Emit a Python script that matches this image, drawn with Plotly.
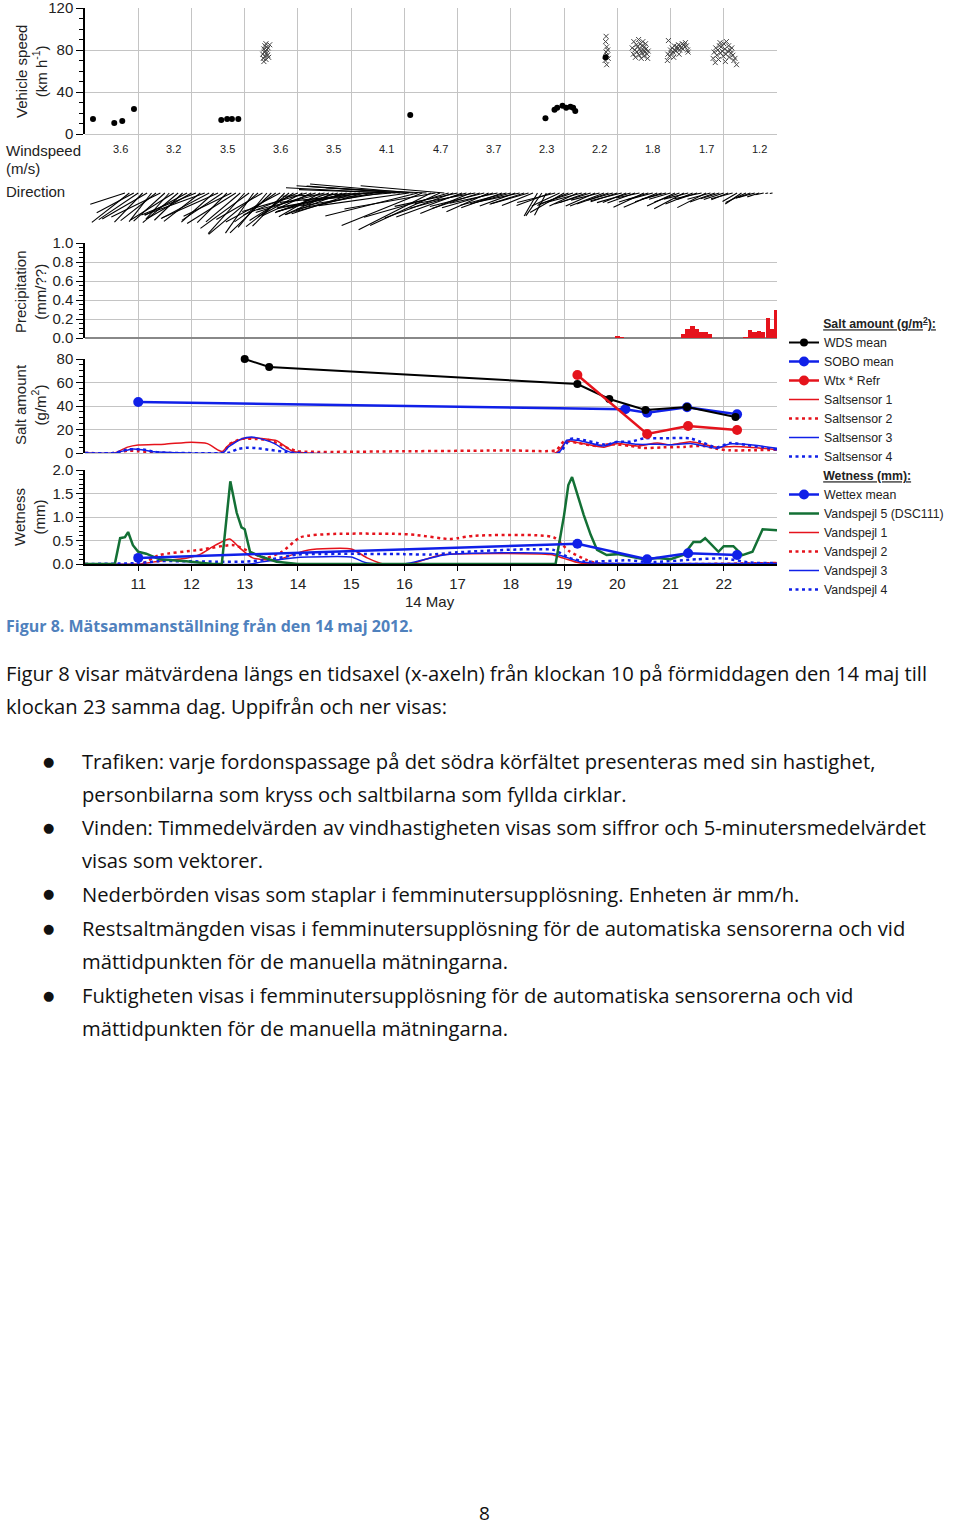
import math
import plotly.graph_objects as go

W, H = 960, 1525
def px(x): return x / W
def py(y): return 1 - y / H
def ydom(top, bot): return [1 - bot / H, 1 - top / H]
XDOM = [85 / W, 777 / W]
XR = [10, 23]
GRID = "#c4c4c4"
FONT = "Liberation Sans, Arial, sans-serif"
BODY = "Open Sans, sans-serif"
RED = "#e5131c"
BLUE = "#1020e8"
GREEN = "#137035"

# ---------------- Vehicle speed ----------------
truck_time = [10.15, 10.55, 10.70, 10.92, 12.56, 12.67, 12.76, 12.88, 16.11,
              18.65, 18.82, 18.87, 18.97, 19.04, 19.12, 19.17, 19.21, 19.78]
truck_speed = [14.3, 10.5, 12.4, 23.8, 13.3, 14.3, 14.3, 14.3, 18,
               15, 23, 25, 27, 25, 26, 25, 22, 73]
car_time = [13.34, 13.35, 13.36, 13.36, 13.37, 13.38, 13.38, 13.39, 13.40, 13.40, 13.41, 13.42, 13.43, 13.44, 13.45, 13.47,
            19.77, 19.78, 19.79, 19.80, 19.80, 19.81, 19.82, 19.83, 19.79,
            20.28, 20.30, 20.31, 20.33, 20.34, 20.36, 20.37, 20.38, 20.40, 20.41, 20.42, 20.43, 20.44, 20.45, 20.46, 20.47,
            20.48, 20.49, 20.50, 20.51, 20.52, 20.53, 20.54, 20.56, 20.57, 20.58,
            20.94, 20.95, 20.96, 20.98, 21.00, 21.02, 21.03, 21.05, 21.07, 21.08, 21.10, 21.12, 21.13, 21.15, 21.17, 21.18,
            21.20, 21.22, 21.23, 21.25, 21.27, 21.28, 21.30, 21.32, 21.33, 21.16, 21.06,
            21.80, 21.82, 21.84, 21.85, 21.87, 21.89, 21.90, 21.92, 21.94, 21.95, 21.97, 21.99, 22.00, 22.02, 22.04, 22.05,
            22.07, 22.09, 22.10, 22.12, 22.14, 22.15, 22.17, 22.19, 22.21, 22.24, 22.03, 21.93]
car_speed = [76, 72, 81, 69, 78, 84, 74, 79, 71, 86, 77, 80, 75, 82, 73, 85,
             70, 88, 78, 83, 66, 75, 80, 72, 93,
             82, 76, 88, 80, 73, 85, 78, 83, 90, 75, 81, 86, 79, 72, 84, 77,
             88, 80, 74, 83, 78, 86, 81, 76, 72, 79,
             70, 76, 89, 74, 80, 77, 82, 78, 84, 80, 79, 83, 81, 85, 80, 84,
             82, 86, 81, 85, 83, 87, 84, 80, 78, 76, 73,
             72, 78, 68, 82, 75, 80, 71, 84, 77, 83, 79, 74, 86, 81, 76, 88,
             79, 84, 73, 80, 77, 82, 75, 70, 72, 66, 69, 87]

# ---------------- Wind ----------------
wind_hour_label = [3.6, 3.2, 3.5, 3.6, 3.5, 4.1, 4.7, 3.7, 2.3, 2.2, 1.8, 1.7, 1.2]
wind_start = 10.75          # first 5-minute vector (10:45)
wind_speed = [2.6, 3.4, 3.0,
              3.4, 2.9, 3.7, 2.6, 3.2, 3.9, 3.0, 2.5, 3.6, 3.3, 2.8, 3.4,
              3.6, 4.2, 3.3, 4.6, 3.9, 3.1, 4.4, 3.5, 3.0, 3.8, 4.1, 3.2,
              3.9, 4.3, 3.5, 4.6, 3.8, 3.2, 4.1, 3.6, 4.4, 3.3, 3.9, 3.7,
              4.2, 3.6, 4.8, 3.9, 4.5, 3.4, 5.0, 4.1, 3.8, 4.6, 4.3, 5.2,
              5.4, 4.8, 6.0, 5.1, 6.4, 5.6, 6.8, 5.9, 7.2, 6.3, 6.9, 7.4,
              7.0, 6.5, 7.4, 6.8, 6.2, 7.2, 5.8, 6.6, 5.5, 6.0, 6.3, 5.2,
              4.6, 5.0, 4.2, 3.9, 4.4, 3.6, 4.0, 3.3, 3.8, 3.5, 3.1, 3.4,
              3.0, 2.7, 3.2, 2.5, 2.9, 2.4, 1.9, 2.0, 1.8, 2.6, 2.8, 2.2,
              2.8, 2.4, 2.6, 2.2, 2.5, 2.0, 2.7, 2.3, 2.1, 2.6, 2.4, 1.9,
              2.0, 2.3, 1.8, 2.5, 2.1, 1.7, 2.4, 2.2, 1.9, 2.6, 2.0, 1.8,
              1.6, 2.2, 1.9, 2.4, 1.8, 2.1, 1.5, 2.0, 2.3, 1.7, 1.9, 1.4,
              1.5, 1.3, 1.6, 1.2, 1.4, 1.6, 1.1, 1.2, 0.9, 0.6, 0.2, 0.2]
wind_angle = [18, 38, 28,
              34, 46, 30, 52, 38, 26, 42, 48, 32, 40, 44, 28,
              30, 22, 38, 20, 28, 42, 24, 34, 45, 26, 32, 40,
              48, 36, 55, 40, 30, 50, 44, 35, 28, 46, 38, 32,
              22, 28, 16, 25, 18, 30, 14, 20, 24, 17, 21, 15,
              12, 18, 10, 15, 6, 12, 2, 9, -3, 5, -2, -4,
              -4, 8, -5, 14, 22, -3, 27, 10, 25, -5, 16, 20,
              12, 20, 15, 22, 10, 18, 14, 24, 16, 12, 20, 15,
              15, 20, 12, 18, 16, 22, 60, 55, 62, 20, 14, 25,
              30, 22, 18, 25, 15, 20, 17, 24, 14, 21, 19, 16,
              18, 14, 22, 16, 20, 12, 25, 17, 15, 23, 18, 14,
              16, 25, 20, 28, 14, 22, 18, 12, 27, 15, 20, 17,
              18, 22, 15, 30, 34, 25, 20, 15, 18, 12, 10, 10]

# ---------------- Precipitation (5-min bars) ----------------
prec_time = [20.00, 20.08, 21.24, 21.32, 21.41, 21.49, 21.58, 21.66, 21.74,
             22.41, 22.49, 22.58, 22.66, 22.74, 22.83, 22.91, 22.99]
prec_val = [0.02, 0.01, 0.04, 0.09, 0.13, 0.09, 0.06, 0.06, 0.04,
            0.01, 0.08, 0.06, 0.07, 0.06, 0.21, 0.10, 0.30]

# ---------------- Salt amount ----------------
wds_t = [13.00, 13.46, 19.25, 19.85, 20.53, 21.31, 22.22]
wds_v = [80, 73.2, 58.7, 46.0, 36.6, 39.1, 30.6]
sobo_t = [11.00, 20.15, 20.56, 21.31, 22.25]
sobo_v = [43.4, 37.2, 34.3, 38.9, 32.9]
wtx_t = [19.25, 20.56, 21.33, 22.25]
wtx_v = [66.4, 16.2, 23.0, 19.6]

ss1_t = [10.0, 10.55, 10.8, 11.0, 11.5, 12.0, 12.3, 12.5, 12.58, 12.7, 12.9, 13.05, 13.4, 13.6, 13.78, 13.9, 14.1,
         18.85, 19.05, 19.3, 19.75, 20.0, 20.37, 20.75, 21.0, 21.37, 21.62, 21.87, 22.2, 22.6, 23.0]
ss1_v = [0, 0, 5, 6.8, 7.5, 9.2, 8, 2.5, 1.2, 6.8, 11, 12.8, 12, 10.5, 5, 1.5, 0.3,
         0.3, 10, 8.5, 5, 8, 6, 8.5, 7, 9.6, 7.5, 5, 5.5, 4.5, 3]
ss2_t = [10.0, 10.55, 10.8, 11.0, 11.3, 12.6, 12.7, 12.94, 13.2, 13.44, 13.63, 13.82, 14.0, 16.0, 18.0, 18.85,
         19.0, 19.25, 19.62, 19.87, 20.25, 20.5, 20.87, 21.25, 21.62, 21.87, 22.1, 22.5, 23.0]
ss2_v = [0, 0, 2, 1.5, 0.5, 0.5, 7, 12, 12, 11, 8, 4, 1.5, 1.5, 2.2, 2.5,
         10, 8.5, 6, 7.5, 6, 4.2, 4.8, 5.2, 6, 3.5, 2.3, 2.3, 2.8]
ss3_t = [10.0, 10.55, 10.9, 11.1, 11.3, 11.6, 12.6, 12.69, 12.94, 13.13, 13.31, 13.56, 13.76, 13.9, 18.9,
         19.05, 19.3, 19.74, 20.0, 20.37, 20.75, 21.0, 21.37, 21.62, 21.87, 22.12, 22.5, 23.0]
ss3_v = [0, 0, 3.5, 2.5, 1, 0.5, 0.5, 5, 12, 13.6, 12, 8, 2.5, 0.3, 0.3,
         11, 10.5, 6, 9.6, 7.4, 7.4, 7, 8, 6, 4, 7.8, 7, 4]
ss4_t = [10.0, 10.55, 10.8, 11.1, 11.3, 11.5, 12.7, 12.75, 12.88, 13.06, 13.25, 13.5, 13.75, 13.9, 18.9,
         19.12, 19.36, 19.62, 19.8, 20.0, 20.25, 20.5, 20.87, 21.37, 21.62, 21.87, 22.12, 22.44, 22.75, 23.0]
ss4_v = [0, 0, 3, 3, 1, 0.2, 0.2, 1, 3.5, 4.5, 4, 2.5, 1, 0.2, 0.2,
         12, 11, 8.5, 7, 9.6, 9.6, 12.5, 12.5, 12.5, 8.5, 4.8, 8.5, 6.7, 4.8, 3]

# ---------------- Wetness ----------------
wettex_t = [11.00, 19.25, 20.56, 21.33, 22.25]
wettex_v = [0.13, 0.43, 0.10, 0.23, 0.19]
vs5_t = [10.0, 10.56, 10.66, 10.75, 10.81, 10.9, 11.0, 11.15, 11.4, 11.9, 12.4, 12.57, 12.73, 12.85, 12.94, 13.0,
         13.1, 13.3, 13.6, 14.0, 18.84, 19.0, 19.08, 19.15, 19.37, 19.5, 19.62, 19.8, 20.0, 20.25, 20.5, 20.75,
         21.0, 21.25, 21.43, 21.56, 21.65, 21.9, 22.0, 22.18, 22.35, 22.54, 22.73, 23.0]
vs5_v = [0, 0, 0.55, 0.57, 0.68, 0.4, 0.26, 0.22, 0.1, 0.06, 0, 0, 1.76, 1.09, 0.78, 0.74,
         0.26, 0.16, 0.05, 0, 0, 1.04, 1.68, 1.85, 1.04, 0.62, 0.3, 0.19, 0.21, 0.15, 0.1, 0.13,
         0.1, 0.2, 0.47, 0.47, 0.55, 0.26, 0.38, 0.38, 0.19, 0.26, 0.74, 0.72]
vs1_t = [10.0, 11.0, 11.4, 11.9, 12.15, 12.45, 12.72, 12.9, 13.15, 13.6, 13.9, 14.2, 15.0, 15.3, 15.6,
         16.1, 16.4, 16.73, 18.75, 19.0, 19.3, 23.0]
vs1_v = [0, 0, 0.06, 0.12, 0.2, 0.4, 0.53, 0.35, 0.13, 0.08, 0.2, 0.3, 0.32, 0.13, 0,
         0, 0.1, 0.2, 0.2, 0.12, 0.02, 0.02]
vs2_t = [10.0, 11.04, 11.4, 12.15, 12.8, 13.2, 13.4, 13.7, 14.05, 14.67, 15.9, 16.2, 16.85, 17.0, 17.3,
         18.8, 19.1, 19.4, 19.6, 23.0]
vs2_v = [0, 0, 0.19, 0.3, 0.4, 0.2, 0.13, 0.26, 0.57, 0.64, 0.64, 0.62, 0.53, 0.55, 0.6,
         0.57, 0.27, 0.1, 0.02, 0.02]
vs3_t = [10.0, 13.1, 13.3, 13.9, 14.2, 15.0, 15.3, 16.0, 16.4, 16.8, 18.8, 19.3, 19.6, 23.0]
vs3_v = [0, 0, 0.04, 0.13, 0.15, 0.15, 0.02, 0, 0.1, 0.2, 0.22, 0.05, 0.02, 0.01]
vs4_t = [10.0, 11.0, 11.4, 12.5, 13.0, 13.5, 14.0, 16.0, 16.5, 17.0, 18.8, 19.1, 19.4, 20.2, 20.6,
         21.5, 22.0, 22.5, 23.0]
vs4_v = [0, 0.02, 0.06, 0.05, 0.05, 0.1, 0.2, 0.21, 0.2, 0.25, 0.3, 0.13, 0.05, 0.08, 0.04,
         0.1, 0.12, 0.03, 0.02]

x_ticks = list(range(11, 23))

# ---------------- Figure ----------------
fig = go.Figure()

# background subplot: vertical hour grid across all panels
fig.add_trace(go.Scatter(x=[None], y=[None], xaxis="x", yaxis="y", showlegend=False, hoverinfo="skip"))

# speed panel
fig.add_trace(go.Scatter(x=car_time, y=car_speed, mode="markers", xaxis="x2", yaxis="y2", showlegend=False,
                         marker=dict(symbol="x-thin", size=5, line=dict(width=1, color="#444"))))
fig.add_trace(go.Scatter(x=truck_time, y=truck_speed, mode="markers", xaxis="x2", yaxis="y2", showlegend=False,
                         marker=dict(symbol="circle", size=6, color="black")))

# wind direction vectors (5-min), baseline at y=0, length in px = speed*14
PX_PER_H = (777 - 85) / 13.0
wx, wy = [], []
for k, (s, a) in enumerate(zip(wind_speed, wind_angle)):
    t = wind_start + k * 5 / 60.0
    L = s * 14.0
    wx += [t, t - L * math.cos(math.radians(a)) / PX_PER_H, None]
    wy += [0, -L * math.sin(math.radians(a)), None]
fig.add_trace(go.Scatter(x=wx, y=wy, mode="lines", xaxis="x3", yaxis="y3", showlegend=False,
                         line=dict(color="black", width=1.1)))

# precipitation
fig.add_trace(go.Bar(x=prec_time, y=prec_val, width=[1 / 12.0] * len(prec_time), xaxis="x4", yaxis="y4",
                     marker=dict(color=RED, line=dict(width=0)), showlegend=False))

DOT = "3px,3.5px"
# salt sensors
fig.add_trace(go.Scatter(x=ss1_t, y=ss1_v, name="Saltsensor 1", mode="lines", xaxis="x5", yaxis="y5",
                         line=dict(color=RED, width=1.5, shape="spline", smoothing=0.6), legendgroup="salt", legendrank=4))
fig.add_trace(go.Scatter(x=ss2_t, y=ss2_v, name="Saltsensor 2", mode="lines", xaxis="x5", yaxis="y5",
                         line=dict(color=RED, width=2.5, dash=DOT, shape="spline", smoothing=0.6), legendgroup="salt", legendrank=5))
fig.add_trace(go.Scatter(x=ss3_t, y=ss3_v, name="Saltsensor 3", mode="lines", xaxis="x5", yaxis="y5",
                         line=dict(color=BLUE, width=1.5, shape="spline", smoothing=0.6), legendgroup="salt", legendrank=6))
fig.add_trace(go.Scatter(x=ss4_t, y=ss4_v, name="Saltsensor 4", mode="lines", xaxis="x5", yaxis="y5",
                         line=dict(color=BLUE, width=2.5, dash=DOT, shape="spline", smoothing=0.6), legendgroup="salt", legendrank=7))
fig.add_trace(go.Scatter(x=sobo_t, y=sobo_v, name="SOBO mean", mode="lines+markers", xaxis="x5", yaxis="y5",
                         line=dict(color=BLUE, width=2.5), marker=dict(size=10, color=BLUE), cliponaxis=False,
                         legendgroup="salt", legendrank=2))
fig.add_trace(go.Scatter(x=wds_t, y=wds_v, name="WDS mean", mode="lines+markers", xaxis="x5", yaxis="y5",
                         line=dict(color="black", width=2), marker=dict(size=8, color="black"), cliponaxis=False,
                         legendgroup="salt", legendrank=1,
                         legendgrouptitle=dict(text="&nbsp;" * 10 + "<b><u>Salt amount (g/m<sup>2</sup>):</u></b>")))
fig.add_trace(go.Scatter(x=wtx_t, y=wtx_v, name="Wtx * Refr", mode="lines+markers", xaxis="x5", yaxis="y5",
                         line=dict(color=RED, width=2.5), marker=dict(size=10, color=RED), cliponaxis=False,
                         legendgroup="salt", legendrank=3))

# wetness
fig.add_trace(go.Scatter(x=vs1_t, y=vs1_v, name="Vandspejl 1", mode="lines", xaxis="x6", yaxis="y6",
                         line=dict(color=RED, width=1.5, shape="spline", smoothing=0.6), legendgroup="wet", legendrank=13))
fig.add_trace(go.Scatter(x=vs2_t, y=vs2_v, name="Vandspejl 2", mode="lines", xaxis="x6", yaxis="y6",
                         line=dict(color=RED, width=2.5, dash=DOT, shape="spline", smoothing=0.6), legendgroup="wet", legendrank=14))
fig.add_trace(go.Scatter(x=vs3_t, y=vs3_v, name="Vandspejl 3", mode="lines", xaxis="x6", yaxis="y6",
                         line=dict(color=BLUE, width=1.5, shape="spline", smoothing=0.6), legendgroup="wet", legendrank=15))
fig.add_trace(go.Scatter(x=vs4_t, y=vs4_v, name="Vandspejl 4", mode="lines", xaxis="x6", yaxis="y6",
                         line=dict(color=BLUE, width=2.5, dash=DOT, shape="spline", smoothing=0.6), legendgroup="wet", legendrank=16))
fig.add_trace(go.Scatter(x=vs5_t, y=vs5_v, name="Vandspejl 5 (DSC111)", mode="lines", xaxis="x6", yaxis="y6",
                         line=dict(color=GREEN, width=2.5), legendgroup="wet", legendrank=12))
fig.add_trace(go.Scatter(x=wettex_t, y=wettex_v, name="Wettex mean", mode="lines+markers", xaxis="x6", yaxis="y6",
                         line=dict(color=BLUE, width=2.5), marker=dict(size=10, color=BLUE), cliponaxis=False,
                         legendgroup="wet", legendrank=11,
                         legendgrouptitle=dict(text="&nbsp;" * 10 + "<b><u>Wetness (mm):</u></b>")))

def yax(dom, rng, dtick, mdtick, fmt, anchor):
    return dict(domain=dom, range=rng, anchor=anchor, showline=True, linecolor="black", linewidth=1.5,
                ticks="outside", ticklen=7, tickwidth=1.3, tickcolor="black", tick0=0, dtick=dtick,
                tickformat=fmt, showgrid=True, gridcolor=GRID, gridwidth=1.3, zeroline=False, automargin=False,
                ticklabeloverflow="allow",
                tickfont=dict(family=FONT, size=15, color="#222"),
                minor=dict(dtick=mdtick, tick0=0, ticks="outside", ticklen=4, tickcolor="black", showgrid=False))

hidden_x = dict(domain=XDOM, range=XR, visible=False, automargin=False)

fig.update_layout(
    width=W, height=H, margin=dict(l=0, r=0, t=0, b=0, pad=0, autoexpand=False),
    paper_bgcolor="white", plot_bgcolor="rgba(0,0,0,0)",
    font=dict(family=FONT, size=13, color="#222"),
    barmode="overlay", bargap=0,
    xaxis=dict(domain=XDOM, range=XR, anchor="y", tick0=10, dtick=1, showgrid=True, gridcolor=GRID, gridwidth=1.3,
               showticklabels=False, ticks="", zeroline=False, showline=False, automargin=False),
    yaxis=dict(domain=ydom(8, 564), range=[0, 1], anchor="x", visible=False, automargin=False),
    xaxis2=dict(hidden_x, anchor="y2"),
    yaxis2=dict(yax(ydom(8, 134), [0, 120], 40, 10, "d", "x2"), zeroline=True, zerolinecolor=GRID, zerolinewidth=1.3),
    xaxis3=dict(hidden_x, anchor="y3"),
    yaxis3=dict(domain=ydom(175, 252), range=[-59, 18], anchor="x3", visible=False, automargin=False),
    xaxis4=dict(hidden_x, anchor="y4"),
    yaxis4=dict(yax(ydom(243, 338), [0, 1], 0.2, 0.05, ".1f", "x4"), zeroline=True, zerolinecolor="#888", zerolinewidth=1.5),
    xaxis5=dict(hidden_x, anchor="y5"),
    yaxis5=dict(yax(ydom(359, 453), [0, 80], 20, 5, "d", "x5"), zeroline=True, zerolinecolor=GRID, zerolinewidth=1.3),
    xaxis6=dict(domain=XDOM, range=XR, anchor="y6", showline=True, linecolor="black", linewidth=1.5, automargin=False,
                ticks="outside", ticklen=5, tickcolor="black", tickvals=x_ticks, ticktext=[str(v) for v in x_ticks],
                showgrid=False, zeroline=False, tickfont=dict(family=FONT, size=15, color="#222")),
    yaxis6=yax(ydom(470, 564), [0, 2], 0.5, 0.1, ".1f", "x6"),
    legend=dict(x=px(784), y=py(309), xanchor="left", yanchor="top", tracegroupgap=0, itemwidth=30,
                bgcolor="rgba(0,0,0,0)", font=dict(family=FONT, size=12.3, color="#222"),
                grouptitlefont=dict(family=FONT, size=12.3, color="#222"), traceorder="grouped"),
)

ann = []
def A(x, y, text, size=15, anchor="left", angle=0, color="#222", family=FONT, **kw):
    ann.append(dict(x=px(x), y=py(y), xref="paper", yref="paper", text=text, showarrow=False,
                    xanchor=anchor, yanchor="middle", textangle=angle,
                    font=dict(family=family, size=size, color=color), **kw))

# y-axis titles
A(31, 72, "Vehicle speed<br>(km h<sup>-1</sup>)", 15, "center", -90)
A(30, 292, "Precipitation<br>(mm/??)", 15, "center", -90)
A(30, 405, "Salt amount<br>(g/m<sup>2</sup>)", 15, "center", -90)
A(30, 517, "Wetness<br>(mm)", 15, "center", -90)
A(4, 150, "Windspeed", 15)
A(4, 168, "(m/s)", 15)
A(4, 192, "Direction", 15)
A(430, 601, "14 May", 15, "center")
for i, v in enumerate(wind_hour_label):
    hx = 85 + (10 + i + 0.67 - 10) * PX_PER_H
    A(hx, 149, f"{v:.1f}", 11, "center")

# document text
A(4, 626, "<b>Figur 8. Mätsammanställning från den 14 maj 2012.</b>", 16, color="#4f81bd", family=BODY)
body = [
    (4, 673, "Figur 8 visar mätvärdena längs en tidsaxel (x-axeln) från klockan 10 på förmiddagen den 14 maj till"),
    (4, 706, "klockan 23 samma dag. Uppifrån och ner visas:"),
    (80, 761, "Trafiken: varje fordonspassage på det södra körfältet presenteras med sin hastighet,"),
    (80, 794, "personbilarna som kryss och saltbilarna som fyllda cirklar."),
    (80, 827, "Vinden: Timmedelvärden av vindhastigheten visas som siffror och 5-minutersmedelvärdet"),
    (80, 860, "visas som vektorer."),
    (80, 894, "Nederbörden visas som staplar i femminutersupplösning. Enheten är mm/h."),
    (80, 928, "Restsaltmängden visas i femminutersupplösning för de automatiska sensorerna och vid"),
    (80, 961, "mättidpunkten för de manuella mätningarna."),
    (80, 995, "Fuktigheten visas i femminutersupplösning för de automatiska sensorerna och vid"),
    (80, 1028, "mättidpunkten för de manuella mätningarna."),
]
for x, y, t in body:
    A(x, y, t, 20.2, color="#111", family=BODY)
for y in [761, 827, 894, 928, 995]:
    A(48, y, "●", 13, "center", color="#111", family="DejaVu Sans")
A(484, 1513, "8", 19, "center", color="#111", family=BODY)

fig.update_layout(annotations=ann)
fig.write_html("out.html",
               post_script="document.body.style.margin='0';document.body.style.padding='0';"
                           "document.documentElement.style.overflow='hidden';")
